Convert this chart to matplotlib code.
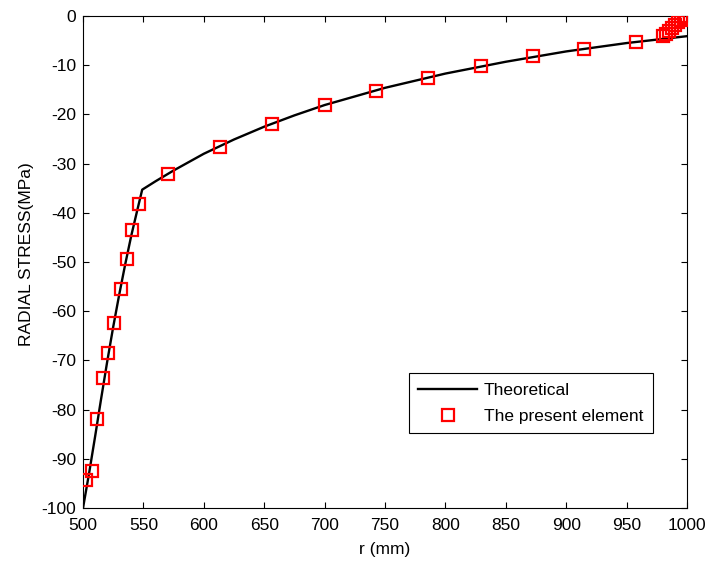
import numpy as np
import matplotlib.pyplot as plt

plt.rcParams['font.family'] = ['Liberation Sans', 'DejaVu Sans']
plt.rcParams['axes.unicode_minus'] = False

# theoretical radial stress through the two layers (r in mm, stress in MPa)
r_theory = [500, 505, 510, 515, 520, 525, 530, 535, 540, 545, 549,
            560, 575, 600, 625, 650, 675, 700, 750, 800, 850, 900, 950, 1000]
s_theory = [-100, -93.0, -85.5, -77.8, -70.3, -63.2, -56.6, -50.4, -44.6, -39.4, -35.3,
            -33.6, -31.4, -28.0, -25.1, -22.5, -20.2, -18.1, -14.6, -11.7, -9.3, -7.2, -5.5, -4.1]

# element results
r_elem = [502.5, 507.5, 511.6, 516.6, 520.7, 525.7, 531.5, 536.4, 540.6, 546.4,
          570.6, 613.4, 656.5, 700.1, 742.5, 785.3, 829.2, 872.3, 914.7, 957.5,
          980.1, 982.6, 985.1, 987.6, 990.1, 992.5, 995.0, 997.5, 999.2]
s_elem = [-94.3, -92.4, -81.9, -73.6, -68.5, -62.4, -55.5, -49.4, -43.5, -38.2,
          -32.1, -26.6, -22.0, -18.1, -15.2, -12.5, -10.2, -8.1, -6.7, -5.2,
          -4.1, -3.7, -3.0, -2.4, -1.8, -1.2, -0.8, -0.4, 0.0]

fig = plt.figure(figsize=(7.08, 5.63), dpi=100)
ax = fig.add_axes([83/708, 1 - 508/563, 604/708, 492/563])

ax.plot(r_theory, s_theory, '-', color='k', lw=1.7, label='Theoretical', zorder=2)
ax.plot(r_elem, s_elem, 's', mfc='none', mec='red', mew=1.6, ms=8.3,
        label='The present element', zorder=3)

ax.set_xlim(500, 1000)
ax.set_ylim(-100, 0)
ax.set_xticks(np.arange(500, 1001, 50))
ax.set_yticks(np.arange(-100, 1, 10))
ax.tick_params(direction='in', top=True, right=True, length=4, width=0.8,
               labelsize=12.5, pad=5)
ax.tick_params(axis='x', pad=7)
for sp in ax.spines.values():
    sp.set_linewidth(0.8)

ax.set_xlabel('r (mm)', fontsize=12.5, labelpad=7)
ax.set_ylabel('RADIAL STRESS(MPa)', fontsize=12.5)
ax.yaxis.set_label_coords(-49/604, 0.517)

leg = ax.legend(loc='upper right', bbox_to_anchor=(570/604, 135/492),
                fontsize=12.5, frameon=True, fancybox=False, edgecolor='k',
                framealpha=1, borderaxespad=0, handlelength=3.4,
                handletextpad=0.4, labelspacing=0.62, borderpad=0.55)
leg.get_frame().set_linewidth(0.8)

fig.savefig('out.png', dpi=100)
